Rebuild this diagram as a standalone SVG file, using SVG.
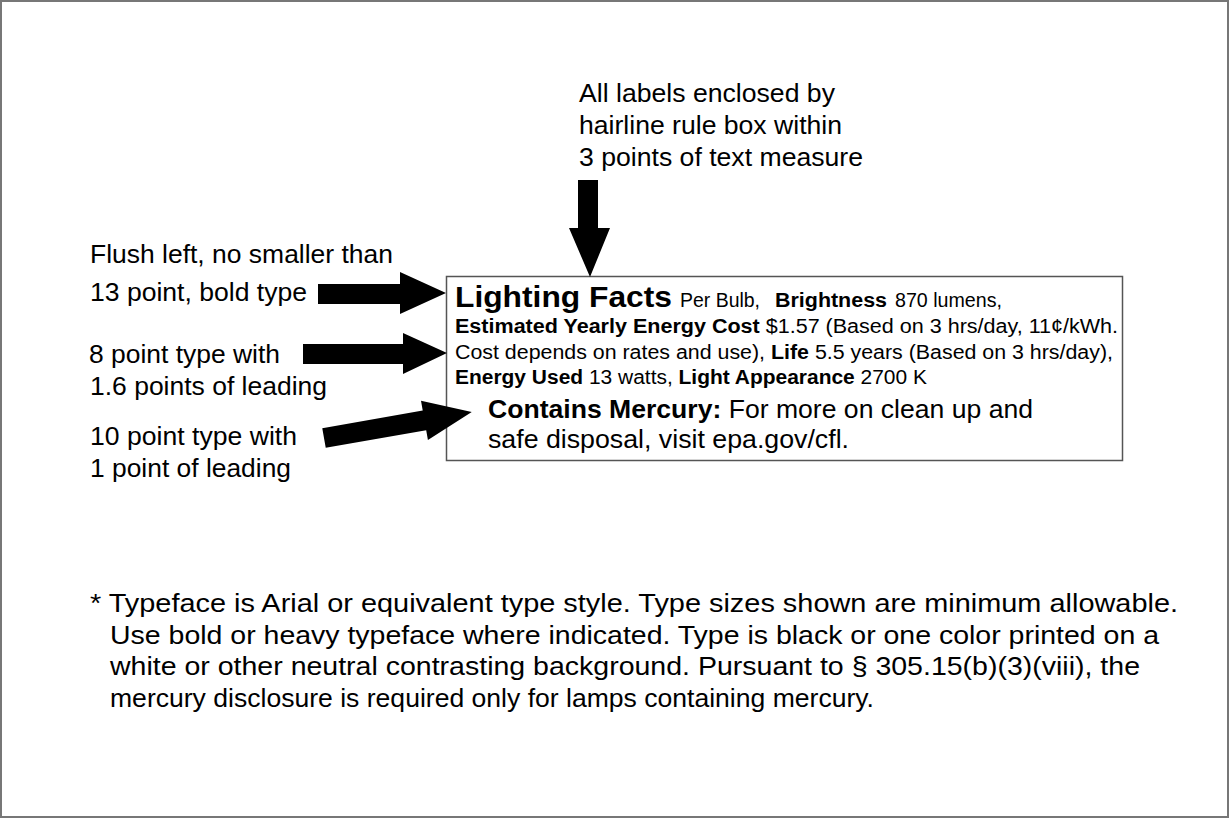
<svg xmlns="http://www.w3.org/2000/svg" width="1229" height="818" viewBox="0 0 1229 818">
<style>
text{font-family:"Liberation Sans",Arial,sans-serif;fill:#000}
.lbl{font-size:26px}
.b{font-weight:bold}
.s{font-size:19.5px}
.m{font-size:25px}
.arrow{fill:#000;stroke:none}
</style>
<rect x="0" y="0" width="1229" height="818" fill="#fff"/>
<rect x="1" y="1" width="1227" height="816" fill="none" stroke="#777" stroke-width="2"/>

<g id="note-top">
<text class="lbl" x="579" y="102" textLength="256" lengthAdjust="spacingAndGlyphs">All labels enclosed by</text>
<text class="lbl" x="579" y="134" textLength="263" lengthAdjust="spacingAndGlyphs">hairline rule box within</text>
<text class="lbl" x="579" y="166" textLength="284" lengthAdjust="spacingAndGlyphs">3 points of text measure</text>
</g>
<g id="note-13pt">
<text class="lbl" x="90" y="263" textLength="303" lengthAdjust="spacingAndGlyphs">Flush left, no smaller than</text>
<text class="lbl" x="90" y="301" textLength="217" lengthAdjust="spacingAndGlyphs">13 point, bold type</text>
</g>
<g id="note-8pt">
<text class="lbl" x="89" y="363" textLength="191" lengthAdjust="spacingAndGlyphs">8 point type with</text>
<text class="lbl" x="90" y="395" textLength="237" lengthAdjust="spacingAndGlyphs">1.6 points of leading</text>
</g>
<g id="note-10pt">
<text class="lbl" x="90" y="445" textLength="207" lengthAdjust="spacingAndGlyphs">10 point type with</text>
<text class="lbl" x="90" y="477" textLength="201" lengthAdjust="spacingAndGlyphs">1 point of leading</text>
</g>

<g id="label-box">
<rect x="446.5" y="276.5" width="676" height="184" fill="none" stroke="#555" stroke-width="1.5"/>
<text class="b" x="455" y="307" font-size="30" textLength="217" lengthAdjust="spacingAndGlyphs">Lighting Facts</text>
<text class="s" x="680" y="307" textLength="80" lengthAdjust="spacingAndGlyphs">Per Bulb,</text>
<text class="s b" x="775" y="307" textLength="112" lengthAdjust="spacingAndGlyphs">Brightness</text>
<text class="s" x="895" y="307" textLength="107" lengthAdjust="spacingAndGlyphs">870 lumens,</text>
<text class="s" x="455" y="333" textLength="663" lengthAdjust="spacingAndGlyphs"><tspan class="b">Estimated Yearly Energy Cost</tspan> $1.57 (Based on 3 hrs/day, 11¢/kWh.</text>
<text class="s" x="455" y="358.5" textLength="658" lengthAdjust="spacingAndGlyphs">Cost depends on rates and use), <tspan class="b">Life</tspan> 5.5 years (Based on 3 hrs/day),</text>
<text class="s" x="455" y="384" textLength="472" lengthAdjust="spacingAndGlyphs"><tspan class="b">Energy Used</tspan> 13 watts, <tspan class="b">Light Appearance</tspan> 2700 K</text>
<text class="m" x="488" y="418" textLength="545" lengthAdjust="spacingAndGlyphs"><tspan class="b">Contains Mercury:</tspan> For more on clean up and</text>
<text class="m" x="488" y="448" textLength="361" lengthAdjust="spacingAndGlyphs">safe disposal, visit epa.gov/cfl.</text>
</g>

<g id="connectors">
<polygon class="arrow" points="578,180 598,180 598,228 610,228 590,277 569,228 578,228"/>
<polygon class="arrow" points="318,284 400,284 400,272 446,293 400,314 400,304 318,304"/>
<polygon class="arrow" points="303,344 403,344 403,333 447,353 403,374 403,364 303,364"/>
<polygon class="arrow" transform="translate(324,438) rotate(-9.96)" points="0,-10 102,-10 102,-20 150,0 102,20 102,10 0,10"/>
</g>

<g id="footnote">
<text class="lbl" x="90" y="612" textLength="1088" lengthAdjust="spacingAndGlyphs">* Typeface is Arial or equivalent type style. Type sizes shown are minimum allowable.</text>
<text class="lbl" x="110" y="643.5" textLength="1049" lengthAdjust="spacingAndGlyphs">Use bold or heavy typeface where indicated. Type is black or one color printed on a</text>
<text class="lbl" x="110" y="675" textLength="1030" lengthAdjust="spacingAndGlyphs">white or other neutral contrasting background. Pursuant to § 305.15(b)(3)(viii), the</text>
<text class="lbl" x="110" y="706.5" textLength="764" lengthAdjust="spacingAndGlyphs">mercury disclosure is required only for lamps containing mercury.</text>
</g>
</svg>
